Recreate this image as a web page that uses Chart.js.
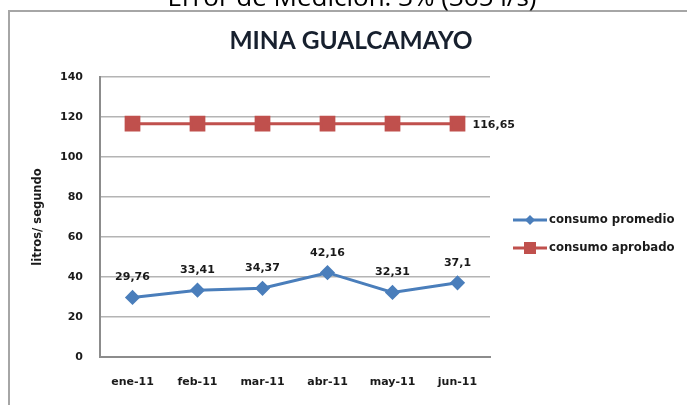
<!DOCTYPE html>
<html>
<head>
<meta charset="utf-8">
<script src="https://cdn.jsdelivr.net/npm/chart.js@4/dist/chart.umd.min.js"></script>
<style>
  html, body { margin: 0; padding: 0; background: #fff; }
  canvas { display: block; }
</style>
</head>
<body>
<canvas id="chart" width="687" height="405"></canvas>
<script>
// data
const months = ["ene-11", "feb-11", "mar-11", "abr-11", "may-11", "jun-11"];
const consumoPromedio = [29.76, 33.41, 34.37, 42.16, 32.31, 37.1];
const consumoAprobado = [116.65, 116.65, 116.65, 116.65, 116.65, 116.65];
const yTicks = [0, 20, 40, 60, 80, 100, 120, 140];

const chartTitle = "MINA GUALCAMAYO";
const pageText = "Error de Medición: 3% (365 l/s)";
const yTitle = "litros/ segundo";

const BLUE = "#4a7ebb";
const RED = "#c0504d";
const TEXT = "#1a1a1a";

const fmt = v => String(v).replace(".", ",");

// frame, titles, labels and legend drawn on top of the chart
const extras = {
  id: "extras",
  beforeDraw(chart) {
    const ctx = chart.ctx;
    ctx.save();
    // frame of the pasted chart
    ctx.strokeStyle = "#a6a6a6";
    ctx.lineWidth = 2;
    ctx.beginPath();
    ctx.moveTo(9, 405);
    ctx.lineTo(9, 11);
    ctx.lineTo(687, 11);
    ctx.stroke();
    ctx.restore();
  },
  afterDraw(chart) {
    const ctx = chart.ctx;
    ctx.save();

    // page text cut at the top
    ctx.fillStyle = "#000";
    ctx.font = "26px 'Open Sans'";
    ctx.textAlign = "center";
    ctx.textBaseline = "alphabetic";
    ctx.fillText(pageText, 352, 6);

    // chart title
    ctx.fillStyle = "#17202e";
    let size = 24;
    ctx.font = "bold " + size + "px Lato";
    const w = ctx.measureText(chartTitle).width;
    size = size * 243 / w;
    ctx.font = "bold " + size.toFixed(1) + "px Lato";
    ctx.fillText(chartTitle, 351, 49);

    // data labels
    ctx.fillStyle = TEXT;
    ctx.font = "bold 11px 'DejaVu Sans'";
    ctx.textBaseline = "middle";
    const m0 = chart.getDatasetMeta(0);
    m0.data.forEach((p, i) => {
      ctx.textAlign = "center";
      ctx.fillText(fmt(consumoPromedio[i]), p.x, p.y - 20);
    });
    const m1 = chart.getDatasetMeta(1);
    const last = m1.data[m1.data.length - 1];
    ctx.textAlign = "left";
    ctx.fillText(fmt(consumoAprobado[consumoAprobado.length - 1]), last.x + 15, last.y + 1);

    // legend
    const items = [
      { label: "consumo promedio", color: BLUE, style: "diamond", y: 220 },
      { label: "consumo aprobado", color: RED, style: "square", y: 248 }
    ];
    items.forEach(it => {
      ctx.strokeStyle = it.color;
      ctx.lineWidth = 3;
      ctx.beginPath();
      ctx.moveTo(513, it.y);
      ctx.lineTo(547, it.y);
      ctx.stroke();
      ctx.fillStyle = it.color;
      ctx.beginPath();
      if (it.style === "diamond") {
        ctx.moveTo(530, it.y - 5);
        ctx.lineTo(535, it.y);
        ctx.lineTo(530, it.y + 5);
        ctx.lineTo(525, it.y);
        ctx.closePath();
      } else {
        ctx.rect(524, it.y - 6, 12, 12);
      }
      ctx.fill();
      ctx.fillStyle = TEXT;
      ctx.font = "bold 11.7px 'DejaVu Sans'";
      ctx.textAlign = "left";
      ctx.fillText(it.label, 549, it.y);
    });

    ctx.restore();
  }
};

new Chart(document.getElementById("chart"), {
  type: "line",
  data: {
    labels: months,
    datasets: [
      {
        label: "consumo promedio",
        data: consumoPromedio,
        borderColor: BLUE,
        backgroundColor: BLUE,
        borderWidth: 3,
        pointStyle: "rectRot",
        pointRadius: 5.5,
        pointBackgroundColor: BLUE,
        pointBorderColor: BLUE,
        tension: 0
      },
      {
        label: "consumo aprobado",
        data: consumoAprobado,
        borderColor: RED,
        backgroundColor: RED,
        borderWidth: 3,
        pointStyle: "rect",
        pointRadius: 9,
        pointBackgroundColor: RED,
        pointBorderColor: RED,
        tension: 0
      }
    ]
  },
  options: {
    responsive: false,
    animation: false,
    layout: { padding: { left: 27, right: 197, top: 77, bottom: 0 } },
    plugins: {
      legend: { display: false },
      tooltip: { enabled: false }
    },
    scales: {
      x: {
        offset: true,
        grid: { display: false, drawTicks: false },
        border: { display: true, color: "#8c8c8c", width: 2 },
        ticks: { color: TEXT, padding: 19, font: { family: "DejaVu Sans", size: 11, weight: "bold" } },
        afterFit: s => { s.height = 48; }
      },
      y: {
        min: 0,
        max: 140,
        afterBuildTicks: s => { s.ticks = yTicks.map(v => ({ value: v })); },
        grid: { color: "#b4b4b4", lineWidth: 1.5, drawTicks: false },
        border: { display: true, color: "#8c8c8c", width: 2 },
        ticks: { color: TEXT, padding: 17, font: { family: "DejaVu Sans", size: 11, weight: "bold" } },
        title: {
          display: true,
          text: yTitle,
          color: TEXT,
          font: { family: "DejaVu Sans", size: 11.5, weight: "bold" }
        },
        afterFit: s => { s.width = 73; }
      }
    }
  },
  plugins: [extras]
});
</script>
</body>
</html>
